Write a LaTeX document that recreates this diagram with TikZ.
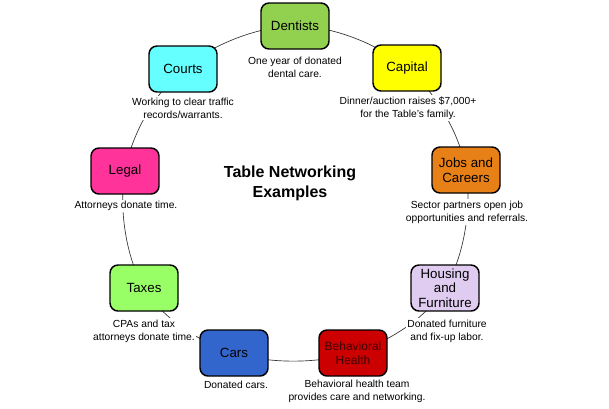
\documentclass[tikz,border=0pt]{standalone}
\usepackage{fontspec}
\setmainfont{Liberation Sans}
\begin{document}
\begin{tikzpicture}[x=0.75pt,y=-0.75pt,
  box/.style={draw=black,line width=1.1pt,rounded corners=6pt,minimum width=51pt,minimum height=34.5pt,inner sep=1pt,align=center,font=\fontsize{10}{11}\selectfont},
  captxt/.style={fill=white,inner sep=1pt,align=center,font=\fontsize{7.7}{9.75}\selectfont},
  ring/.style={draw=black!80,line width=0.5pt}]
\useasboundingbox (0,0) rectangle (609,408);
% ring positions
\coordinate (pdent) at (295,26);
\coordinate (pcourts) at (183,69);
\coordinate (pcap) at (407,68);
\coordinate (plegal) at (125,171);
\coordinate (pjobs) at (466,170);
\coordinate (ptax) at (144,288);
\coordinate (phous) at (445,288);
\coordinate (pcars) at (234,353);
\coordinate (pbeh) at (353,353);
\draw[ring] plot[smooth cycle,tension=0.6] coordinates {(pdent) (pcap) (pjobs) (phous) (pbeh) (pcars) (ptax) (plegal) (pcourts)};
% boxes
\node[box,fill={rgb,255:red,146;green,208;blue,80}] (dent) at (pdent) {Dentists};
\node[box,fill={rgb,255:red,102;green,255;blue,255}] (courts) at (pcourts) {Courts};
\node[box,fill={rgb,255:red,255;green,255;blue,0}] (capital) at (pcap) {Capital};
\node[box,fill={rgb,255:red,255;green,51;blue,153}] (legal) at (plegal) {Legal};
\node[box,fill={rgb,255:red,232;green,128;blue,24}] (jobs) at (pjobs) {Jobs and\\Careers};
\node[box,fill={rgb,255:red,153;green,255;blue,102}] (taxes) at (ptax) {Taxes};
\node[box,fill={rgb,255:red,224;green,204;blue,240}] (housing) at (phous) {Housing\\and\\Furniture};
\node[box,fill={rgb,255:red,51;green,102;blue,204}] (cars) at (pcars) {Cars};
\node[box,fill={rgb,255:red,204;green,0;blue,0},text={rgb,255:red,60;green,0;blue,0},font=\fontsize{9}{10.5}\selectfont] (behav) at (pbeh) {Behavioral\\Health};
% captions
\node[captxt] (tdent) at (295,67) {One year of donated\\dental care.};
\node[captxt] (tcourts) at (183,108) {Working to clear traffic\\records/warrants.};
\node[captxt] (tcap) at (408,108) {Dinner/auction raises \$7,000+\\for the Table's family.};
\node[captxt] (tlegal) at (126,206) {Attorneys donate time.};
\node[captxt] (tjobs) at (467,212) {Sector partners open job\\opportunities and referrals.};
\node[captxt] (ttax) at (144,331) {CPAs and tax\\attorneys donate time.};
\node[captxt] (thous) at (447,331) {Donated furniture\\and fix-up labor.};
\node[captxt] (tcars) at (236,385) {Donated cars.};
\node[captxt] (tbeh) at (357,391) {Behavioral health team\\provides care and networking.};
\node[align=center,font=\bfseries\fontsize{12}{15}\selectfont] (title) at (290,183) {Table Networking\\Examples};
\end{tikzpicture}
\end{document}
